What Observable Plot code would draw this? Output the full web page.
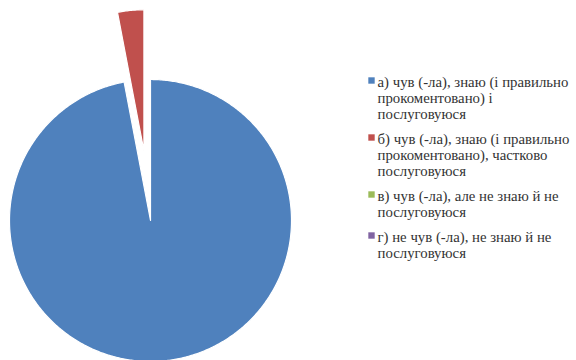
<!DOCTYPE html>
<html>
<head>
<meta charset="utf-8">
<script src="https://cdn.jsdelivr.net/npm/d3@7"></script>
<script src="https://cdn.jsdelivr.net/npm/@observablehq/plot@0.6"></script>
<style>
  html, body { margin: 0; padding: 0; background: #fff; }
</style>
</head>
<body>
<div id="chart"></div>
<script>
// ---- data ----
const categories = [
  "а) чув (-ла), знаю (і правильно\nпрокоментовано) і\nпослуговуюся",
  "б) чув (-ла), знаю (і правильно\nпрокоментовано), частково\nпослуговуюся",
  "в) чув (-ла), але не знаю й не\nпослуговуюся",
  "г) не чув (-ла), не знаю й не\nпослуговуюся"
];
const values = [97, 3, 0, 0];
const colors = ["#4F81BD", "#C0504D", "#9BBB59", "#8064A2"];
const exploded = [false, true, false, false];

// ---- layout ----
const W = 576, H = 360;
const cx = 150, cy = 220, R = 141, explodeDist = 70;
const legendX = 371, legendTextX = 377, legendTop = 80, lineH = 16, entryGap = 9;
const fs = 14.8;

// pie geometry from data
const arcs = d3.pie().sort(null).value(d => d)(values);
const slicePts = [];
arcs.forEach((a, i) => {
  if (a.endAngle - a.startAngle <= 0) return;
  const mid = (a.startAngle + a.endAngle) / 2;
  const ox = exploded[i] ? explodeDist * Math.sin(mid) : 0;
  const oy = exploded[i] ? -explodeDist * Math.cos(mid) : 0;
  const x0 = cx + ox, y0 = cy + oy;
  slicePts.push({key: categories[i], x: x0, y: y0});
  const n = Math.max(2, Math.ceil((a.endAngle - a.startAngle) / 0.01));
  for (let k = 0; k <= n; k++) {
    const t = a.startAngle + (a.endAngle - a.startAngle) * k / n;
    slicePts.push({key: categories[i], x: x0 + R * Math.sin(t), y: y0 - R * Math.cos(t)});
  }
});

// legend entries and their lines
let yy = legendTop;
const legend = [];
const legendLines = [];
categories.forEach((c) => {
  const lines = c.split("\n");
  legend.push({key: c, y: yy});
  lines.forEach((ln, j) => legendLines.push({key: c, text: ln, y: yy + j * lineH}));
  yy += lines.length * lineH + entryGap;
});

const chart = Plot.plot({
  width: W,
  height: H,
  margin: 0,
  x: {domain: [0, W], range: [0, W], axis: null},
  y: {domain: [0, H], range: [0, H], axis: null},
  color: {domain: categories, range: colors},
  style: {background: "#fff"},
  marks: [
    Plot.line(slicePts, {x: "x", y: "y", z: "key", fill: "key", stroke: "white", strokeWidth: 1.2, curve: "linear-closed"}),
    Plot.dot(legend, {x: () => legendX, y: "y", fill: "key", symbol: "square", r: 3.6, stroke: null}),
    Plot.text(legendLines, {x: () => legendTextX, y: "y", text: "text", textAnchor: "start", lineAnchor: "bottom", dy: 6.5, fontSize: fs, fontFamily: "Liberation Serif", fill: "#333"})
  ]
});
document.getElementById("chart").appendChild(chart);
</script>
</body>
</html>
